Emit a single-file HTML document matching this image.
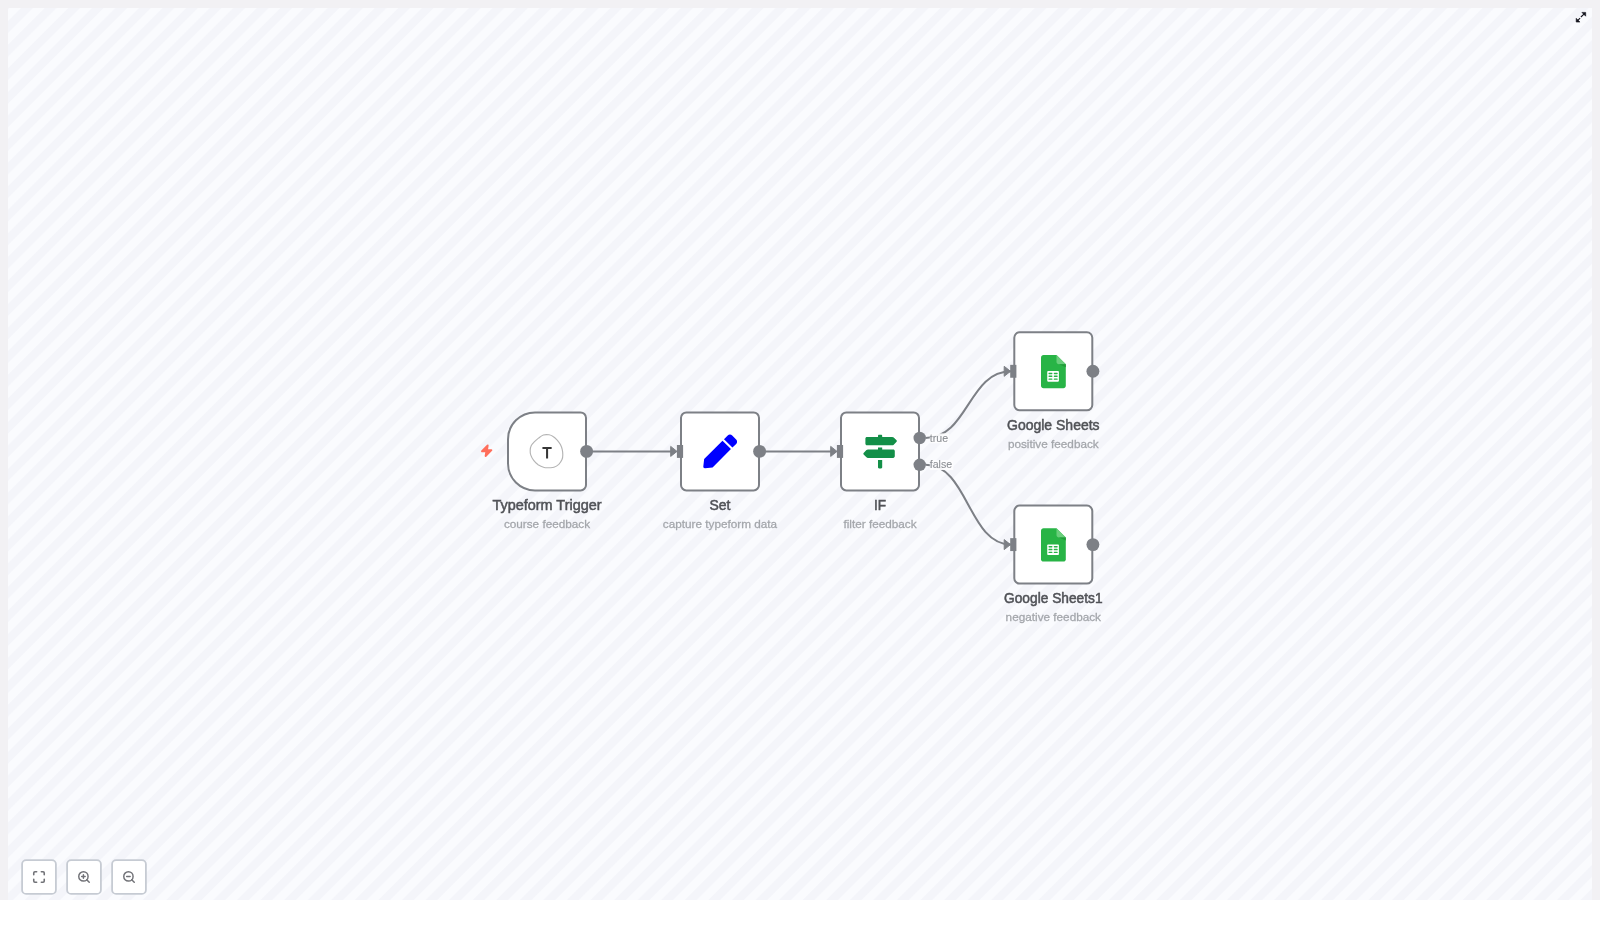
<!DOCTYPE html>
<html><head><meta charset="utf-8">
<style>
html,body{margin:0;padding:0;width:1600px;height:938px;overflow:hidden;background:#fff;font-family:"Liberation Sans",sans-serif;}
#frame{position:absolute;left:0;top:0;width:1600px;height:900px;background:#f2f1f4;}
#canvas{position:absolute;left:8px;top:8px;width:1584px;height:892px;
 background:repeating-linear-gradient(135deg,#f4f5fa 0px,#f4f5fa 0.42px,#fafbfe 1.52px,#fafbfe 8.75px,#f4f5fa 9.85px,#f4f5fa 16.667px);}
svg{position:absolute;left:0;top:0;}
</style></head><body>
<div id="frame"></div>
<div id="canvas"></div>
<svg width="1600" height="938" viewBox="0 0 1600 938">
 <g fill="none" stroke="#7d8086" stroke-width="2">
  <!-- edges -->
  <path d="M587 451.4 H671"/>
  <path d="M760 451.4 H831"/>
  <path d="M925.5 437.9 C968.25 437.9 968.25 371.3 1011 371.3"/>
  <path d="M925.5 464.8 C968.25 464.8 968.25 544.6 1011 544.6"/>
 </g>
 <!-- arrows -->
 <g fill="#7d8086" stroke="#7d8086" stroke-width="1" stroke-linejoin="round">
  <polygon points="670.7,446.4 677,451.4 670.7,456.4"/>
  <polygon points="830.7,446.4 837,451.4 830.7,456.4"/>
  <polygon points="1004.2,366.3 1010.5,371.3 1004.2,376.3"/>
  <polygon points="1004.2,539.6 1010.5,544.6 1004.2,549.6"/>
 </g>
 <!-- nodes -->
 <g fill="#fff" stroke="#7d8086" stroke-width="2">
  <path d="M535 412.4 H580.6 A5.4 5.4 0 0 1 586 417.8 V485 A5.4 5.4 0 0 1 580.6 490.4 H535 A27 27 0 0 1 508 463.4 V439.4 A27 27 0 0 1 535 412.4 Z"/>
  <rect x="681" y="412.4" width="78" height="78" rx="5.4"/>
  <rect x="841" y="412.4" width="78" height="78" rx="5.4"/>
  <rect x="1014.3" y="332.3" width="78" height="78" rx="5.4"/>
  <rect x="1014.3" y="505.6" width="78" height="78" rx="5.4"/>
 </g>
 <!-- input handles -->
 <g fill="#7d8086">
  <rect x="676.9" y="445" width="6.2" height="12.9"/>
  <rect x="836.9" y="445" width="6.2" height="12.9"/>
  <rect x="1010.2" y="364.85" width="6.2" height="12.9"/>
  <rect x="1010.2" y="538.15" width="6.2" height="12.9"/>
 </g>
 <!-- output handles -->
 <g fill="#7d8086">
  <circle cx="586.6" cy="451.4" r="6.45"/>
  <circle cx="759.6" cy="451.4" r="6.45"/>
  <circle cx="919.7" cy="438" r="6.2"/>
  <circle cx="919.7" cy="464.8" r="6.2"/>
  <circle cx="1092.9" cy="371.3" r="6.45"/>
  <circle cx="1092.9" cy="544.6" r="6.45"/>
 </g>
 <!-- bolt -->
 <path d="M487.7 445.4 L482.0 451.2 L486.4 451.4 L485.6 456.0 L491.4 450.1 L487.0 449.9 Z" fill="#ff6e5b" stroke="#ff6e5b" stroke-width="1.9" stroke-linejoin="round"/>
 <!-- typeform icon -->
 <path d="M543.4 435.0 C545.2 434.4 547.5 434.6 549.1 434.8 C550.7 435.1 551.8 435.6 553.1 436.5 C554.5 437.4 556.0 438.8 557.2 440.1 C558.4 441.5 559.6 443.1 560.4 444.6 C561.2 446.2 561.8 447.7 562.2 449.4 C562.6 451.1 562.8 453.0 562.8 454.7 C562.8 456.4 562.7 458.0 562.0 459.6 C561.3 461.2 560.1 463.1 558.8 464.4 C557.4 465.7 555.5 466.8 553.9 467.3 C552.3 467.9 550.7 467.7 549.1 467.7 C547.5 467.7 546.0 468.0 544.2 467.5 C542.4 467.0 539.9 466.0 538.1 464.8 C536.4 463.6 534.9 462.0 533.7 460.4 C532.5 458.8 531.4 456.8 530.8 455.1 C530.2 453.4 530.1 451.8 530.2 450.2 C530.3 448.6 530.5 447.2 531.2 445.8 C531.9 444.4 533.3 443.0 534.5 441.7 C535.7 440.4 537.0 439.2 538.5 438.1 C540.0 437.0 541.6 435.6 543.4 435.0Z" fill="none" stroke="#b4b4b4" stroke-width="1.15"/>
 <g fill="#363636">
  <rect x="542.4" y="446.9" width="9.3" height="2.0" rx="0.3"/>
  <rect x="546.05" y="446.9" width="2.05" height="11.6" rx="0.3"/>
 </g>
 <!-- pen icon FA5 -->
 <g transform="translate(703.3 434.5) scale(0.066)">
  <path fill="#0000ff" d="M290.74 93.24l128.02 128.02-277.99 277.99-114.14 12.6C11.35 513.54-1.56 500.62.14 485.34l12.7-114.22 277.9-277.88zm207.2-19.06l-60.11-60.11c-18.75-18.75-49.16-18.75-67.91 0l-56.55 56.55 128.02 128.02 56.55-56.55c18.75-18.76 18.75-49.16 0-67.91z"/>
 </g>
 <!-- map signs FA5 -->
 <g transform="translate(863.3 434.8) scale(0.0656)">
  <path fill="#138f48" d="M507.31 84.69L464 41.37c-6-6-14.14-9.37-22.63-9.37H288V16c0-8.84-7.16-16-16-16h-32c-8.84 0-16 7.16-16 16v16H56c-13.25 0-24 10.75-24 24v80c0 13.25 10.75 24 24 24h385.37c8.49 0 16.62-3.37 22.63-9.37l43.31-43.31c6.25-6.26 6.25-16.38 0-22.63zM224 496c0 8.84 7.16 16 16 16h32c8.84 0 16-7.160 16-16V384h-64v112zm232-272H288v-32h-64v32H70.63c-8.49 0-16.62 3.37-22.63 9.37L4.69 276.69c-6.25 6.25-6.25 16.38 0 22.63L48 342.63c6 6 14.14 9.37 22.63 9.37H456c13.25 0 24-10.75 24-24v-80c0-13.25-10.75-24-24-24z"/>
 </g>
 <!-- google sheets icons -->
 <g transform="translate(1041 354.9) scale(0.506)">
  <path fill="#28b446" d="M30.6 0H5C2.2 0 0 2.2 0 5v56.2C0 64 2.2 66 5 66h39.2c2.6 0 4.8-2.2 4.8-4.8V18.4z"/>
  <path fill="#6ace7c" d="M30.6 0v13.6c0 2.6 2.1 4.8 4.8 4.8H49z"/>
  <path fill="#219b38" d="M35.4 18.4L49 24.5v-6.1z"/>
  <rect x="12.3" y="32" width="23.1" height="20.9" rx="1.6" fill="#fff"/>
  <g fill="#28b446"><rect x="14.8" y="35.2" width="7.8" height="2.8" rx="1.2"/><rect x="25.2" y="35.2" width="7.8" height="2.8" rx="1.2"/><rect x="14.8" y="40.8" width="7.8" height="2.8" rx="1.2"/><rect x="25.2" y="40.8" width="7.8" height="2.8" rx="1.2"/><rect x="14.8" y="46.4" width="7.8" height="2.8" rx="1.2"/><rect x="25.2" y="46.4" width="7.8" height="2.8" rx="1.2"/></g>
 </g>
 <g transform="translate(1041 528.2) scale(0.506)">
  <path fill="#28b446" d="M30.6 0H5C2.2 0 0 2.2 0 5v56.2C0 64 2.2 66 5 66h39.2c2.6 0 4.8-2.2 4.8-4.8V18.4z"/>
  <path fill="#6ace7c" d="M30.6 0v13.6c0 2.6 2.1 4.8 4.8 4.8H49z"/>
  <path fill="#219b38" d="M35.4 18.4L49 24.5v-6.1z"/>
  <rect x="12.3" y="32" width="23.1" height="20.9" rx="1.6" fill="#fff"/>
  <g fill="#28b446"><rect x="14.8" y="35.2" width="7.8" height="2.8" rx="1.2"/><rect x="25.2" y="35.2" width="7.8" height="2.8" rx="1.2"/><rect x="14.8" y="40.8" width="7.8" height="2.8" rx="1.2"/><rect x="25.2" y="40.8" width="7.8" height="2.8" rx="1.2"/><rect x="14.8" y="46.4" width="7.8" height="2.8" rx="1.2"/><rect x="25.2" y="46.4" width="7.8" height="2.8" rx="1.2"/></g>
 </g>
 <!-- top-right expand icon -->
 <g fill="#15151f" stroke="#15151f" stroke-linejoin="round" stroke-width="0.6">
  <polygon points="1581.9,12.4 1585.7,12.4 1585.7,16.2"/>
  <polygon points="1576.2,18.3 1576.2,22.05 1579.95,22.05"/>
 </g>
 <g stroke="#15151f" stroke-width="1.15" stroke-linecap="butt">
  <line x1="1584.3" y1="13.8" x2="1580.9" y2="17.0"/>
  <line x1="1577.6" y1="20.7" x2="1580.1" y2="18.2"/>
 </g>
</svg>
<svg width="1600" height="938" viewBox="0 0 1600 938" style="pointer-events:none">
 <g fill="#fff" stroke="#c6cbd3" stroke-width="1.8">
  <rect x="22.1" y="860.1" width="33.8" height="33.8" rx="4"/>
  <rect x="67.1" y="860.1" width="33.8" height="33.8" rx="4"/>
  <rect x="112.1" y="860.1" width="33.8" height="33.8" rx="4"/>
 </g>
 <g fill="none" stroke="#717277" stroke-width="2.7" stroke-linecap="round" stroke-linejoin="round">
  <g transform="translate(32 870) scale(0.583)">
   <path d="M8 3H5a2 2 0 0 0-2 2v3"/><path d="M21 8V5a2 2 0 0 0-2-2h-3"/><path d="M3 16v3a2 2 0 0 0 2 2h3"/><path d="M16 21h3a2 2 0 0 0 2-2v-3"/>
  </g>
 </g>
 <g fill="none" stroke="#717277" stroke-width="2.5" stroke-linecap="round" stroke-linejoin="round">
  <g transform="translate(77 870) scale(0.583)">
   <circle cx="11" cy="11" r="8"/><line x1="21" y1="21" x2="16.65" y2="16.65"/><line x1="11" y1="8" x2="11" y2="14"/><line x1="8" y1="11" x2="14" y2="11"/>
  </g>
  <g transform="translate(122 870) scale(0.583)">
   <circle cx="11" cy="11" r="8"/><line x1="21" y1="21" x2="16.65" y2="16.65"/><line x1="8" y1="11" x2="14" y2="11"/>
  </g>
 </g>
</svg>
<svg width="1600" height="938" viewBox="0 0 1600 938" style="will-change:transform">
 <!-- handle labels -->
 <rect x="929.8" y="433.4" width="19.5" height="9.8" fill="#fdfdfe" fill-opacity="0.92"/>
 <rect x="929.8" y="460.2" width="23.5" height="9.8" fill="#fdfdfe" fill-opacity="0.92"/>
 <g font-family="Liberation Sans" font-size="10.6" fill="#8a8d92" stroke="#8a8d92" stroke-width="0.08">
  <text transform="translate(929.8 441.6) scale(1 1.02)">true</text>
  <text transform="translate(929.8 468.4) scale(1 1.02)">false</text>
 </g>
 <!-- titles -->
 <g style="opacity:0.999" font-family="Liberation Sans" font-size="14" fill="#505257" stroke="#505257" stroke-width="0.5" text-anchor="middle">
  <text font-size="14.45" transform="translate(547 509.5) scale(1 1.04)">Typeform Trigger</text>
  <text transform="translate(720 509.5) scale(1 1.04)">Set</text>
  <text font-size="13.6" transform="translate(880 509.5) scale(1 1.04)">IF</text>
  <text transform="translate(1053.3 429.6) scale(1 1.04)">Google Sheets</text>
  <text font-size="13.75" transform="translate(1053.3 602.6) scale(1 1.04)">Google Sheets1</text>
 </g>
 <g font-family="Liberation Sans" font-size="11.75" fill="#a3a6ab" stroke="#a3a6ab" stroke-width="0.28" text-anchor="middle">
  <text transform="translate(547 527.7)">course feedback</text>
  <text transform="translate(720 527.7)">capture typeform data</text>
  <text transform="translate(880 527.7)">filter feedback</text>
  <text transform="translate(1053.3 447.5) scale(1 1.0)">positive feedback</text>
  <text transform="translate(1053.3 620.8)">negative feedback</text>
 </g>
</svg>
</body></html>
